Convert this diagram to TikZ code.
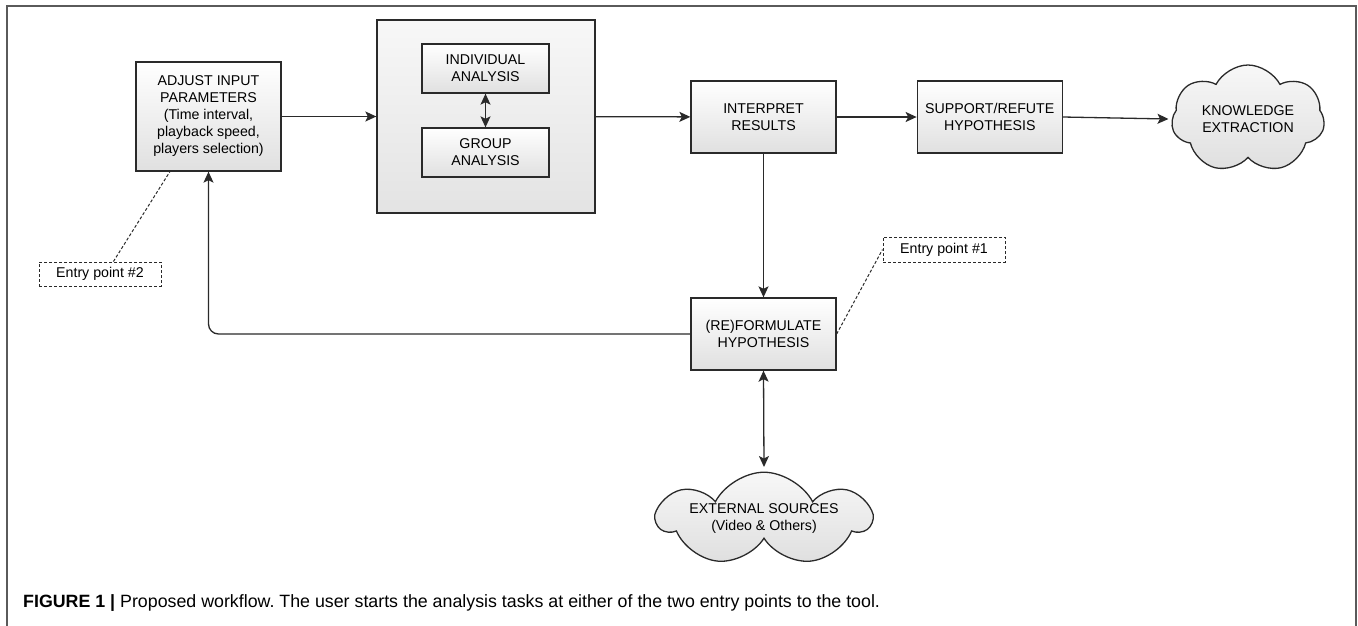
\documentclass[tikz,border=0pt]{standalone}
\usepackage{fontspec}
\setmainfont{Liberation Sans}
\usetikzlibrary{positioning,shapes.symbols,arrows.meta}

\definecolor{linegray}{HTML}{2A2A2A}
\definecolor{boxgray}{HTML}{E0E0E0}
\definecolor{cloudgray}{HTML}{EBEBEB}
\definecolor{framegray}{HTML}{5A5A5A}

\tikzset{
    every node/.style={font=\fontsize{14.2}{17}\selectfont, text=black, align=center, inner sep=0pt},
    taskbox/.style={draw=linegray, line width=1.3pt, top color=white, bottom color=boxgray},
    outerbox/.style={draw=linegray, line width=1.3pt, top color=white!97!black, bottom color=boxgray!90},
    cloudbox/.style={cloud, cloud puffs=7, cloud puff arc=125, cloud ignores aspect, draw=linegray, line width=1.3pt, top color=white!97!black, bottom color=cloudgray!95!black},
    entrybox/.style={draw=linegray, line width=1pt, dash pattern=on 3pt off 2pt},
    flow/.style={draw=linegray, line width=1.3pt, -{Stealth[length=11pt, width=10pt, inset=2.5pt]}},
    twoway/.style={draw=linegray, line width=1.3pt, {Stealth[length=11pt, width=10pt, inset=2.5pt]}-{Stealth[length=11pt, width=10pt, inset=2.5pt]}},
    hint/.style={draw=linegray, line width=1pt, dash pattern=on 3pt off 2pt}
}

\begin{document}
\frenchspacing
\begin{tikzpicture}[x=1pt, y=-1pt]
    \useasboundingbox (0,0) rectangle (1358,625);
    % figure frame
    \draw[framegray, line width=1.4pt] (7,626) -- (7,6) -- (1356,6) -- (1356,626);

    % main row
    \node[taskbox, minimum width=145pt, minimum height=109pt] (adjust) at (208.5,116.5)
        {ADJUST INPUT\\PARAMETERS\\(Time interval,\\playback speed,\\players selection)};
    \node[outerbox, minimum width=218pt, minimum height=193pt] (analysis) at (486,116.5) {};
    \node[taskbox, minimum width=127pt, minimum height=49pt] (indiv) at (485.5,68.5) {INDIVIDUAL\\ANALYSIS};
    \node[taskbox, minimum width=127pt, minimum height=49pt] (group) at (485.5,152.5) {GROUP\\ANALYSIS};
    \node[taskbox, minimum width=145pt, minimum height=72pt] (interp) at (763.5,117) {INTERPRET\\RESULTS};
    \node[taskbox, minimum width=145pt, minimum height=72pt, right=80pt of interp] (support) {SUPPORT/REFUTE\\HYPOTHESIS};
    \node[cloudbox, minimum width=153pt, minimum height=108pt] (knowledge) at (1248,119) {KNOWLEDGE\\EXTRACTION};

    % lower part
    \node[taskbox, minimum width=145pt, minimum height=72pt] (reform) at (763.5,334) {(RE)FORMULATE\\HYPOTHESIS};
    \node[cloudbox, minimum width=212pt, minimum height=92pt] (external) at (764,519) {EXTERNAL SOURCES\\(Video \& Others)};
    \node[entrybox, minimum width=122pt, minimum height=25pt] (entryone) at (944,249.5) {Entry point \#1};
    \node[entrybox, minimum width=122pt, minimum height=24pt] (entrytwo) at (100,274) {Entry point \#2};

    % connectors
    \draw[flow] (adjust) -- (analysis);
    \draw[flow] (analysis) -- (interp);
    \draw[flow] (interp) -- (support);
    \draw[flow] (support.east) -- ([xshift=-3pt]knowledge.west);
    \draw[twoway] (indiv) -- (group);
    \draw[flow] (interp) -- (reform);
    \draw[flow, rounded corners=10pt] (reform.west) -| (adjust.south);
    \draw[twoway] (reform.south) -- (764,467);
    \draw[hint] (reform.east) -- (entryone.west);
    \draw[hint] (entrytwo.43) -- (adjust.-125);

    % caption
    \node[anchor=base west, font=\fontsize{17.8}{20}\selectfont] (caption) at (23,607)
        {\textbf{FIGURE 1 |} Proposed workflow. The user starts the analysis tasks at either of the two entry points to the tool.};
\end{tikzpicture}
\end{document}
